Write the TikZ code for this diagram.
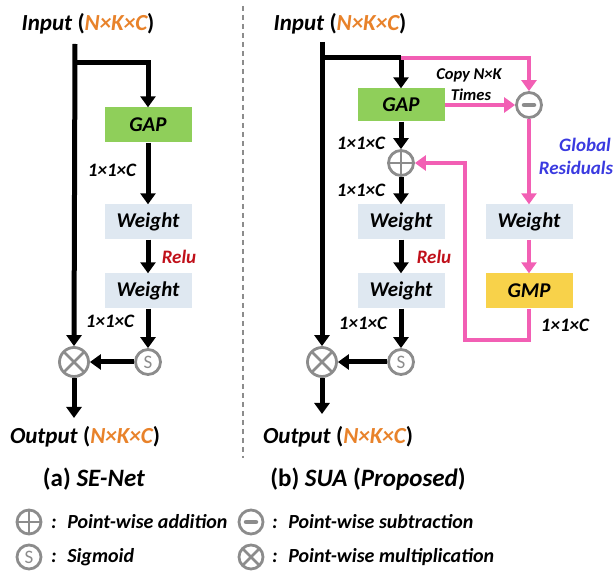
\documentclass[tikz,border=0pt]{standalone}
\usepackage{fontspec}
\setmainfont{Carlito}
\usetikzlibrary{arrows.meta,calc}
\definecolor{gapgreen}{HTML}{8FCF5A}
\definecolor{wblue}{HTML}{DFE8F1}
\definecolor{gmpy}{HTML}{F8D24A}
\definecolor{dimor}{HTML}{E8822A}
\definecolor{pk}{HTML}{F25FB4}
\definecolor{opgray}{HTML}{8C8C8C}
\definecolor{relured}{HTML}{C0101A}
\definecolor{resblue}{HTML}{3A3AE0}
\tikzset{
  lbl/.style={font=\fontsize{23}{25}\selectfont\bfseries\itshape, inner sep=0pt},
  dim/.style={font=\fontsize{19}{21}\selectfont\bfseries\itshape, inner sep=0pt},
  boxbase/.style={minimum width=87pt, minimum height=35pt, inner sep=0pt, font=\fontsize{21}{23}\selectfont\bfseries\itshape},
  gapbox/.style={boxbase, fill=gapgreen},
  wbox/.style={boxbase, fill=wblue},
  gmpbox/.style={boxbase, fill=gmpy},
  blk/.style={line width=5pt, -{Triangle[length=11pt,width=15pt]}},
  blkline/.style={line width=5pt},
  pkarrow/.style={draw=pk, line width=4.2pt, -{Triangle[length=11pt,width=15pt]}},
  opbase/.style={circle, draw=opgray, line width=2.8pt, minimum size=25pt, inner sep=0pt},
  opplus/.style={opbase, path picture={\draw[opgray,line width=2.8pt] (path picture bounding box.north) -- (path picture bounding box.south) (path picture bounding box.west) -- (path picture bounding box.east);}},
  optimes/.style={opbase, path picture={\draw[opgray,line width=2.8pt] (path picture bounding box.north east) -- (path picture bounding box.south west) (path picture bounding box.north west) -- (path picture bounding box.south east);}},
  opminus/.style={opbase, path picture={\draw[opgray,line width=4.5pt,line cap=round] ([xshift=-5pt]path picture bounding box.center) -- ([xshift=5pt]path picture bounding box.center);}},
  opsig/.style={opbase, text=opgray, font=\fontsize{19}{19}\selectfont},
  captext/.style={font=\fontsize{25}{27}\selectfont\bfseries, inner sep=0pt},
  leg/.style={font=\fontsize{20}{22}\selectfont\bfseries\itshape, inner sep=0pt, anchor=west},
}
\newcommand{\nkc}{\textup{(}\textcolor{dimor}{N×K×C}\textup{)}}
\begin{document}
\begin{tikzpicture}[x=1pt,y=-1pt]
\useasboundingbox (0,0) rectangle (614,580);
% separator
\draw[opgray, line width=2pt, dash pattern=on 5pt off 4pt] (243,6) -- (243,458);

% ---------- left: SE-Net ----------
\node[lbl] (inL) at (88,24) {Input \nkc};
\coordinate (topL) at (75,44);
\coordinate (brL) at (75,63);
\node[gapbox] (gapL) at (148,125) {GAP};
\node[wbox] (w1L) at (148,222) {Weight};
\node[wbox] (w2L) at (148,291) {Weight};
\node[opsig] (sL) at (148,362) {S};
\node[optimes, minimum size=29pt] (mulL) at (74,362) {};
\coordinate (endL) at (74,418);
\node[lbl] (outL) at (85,437) {Output \nkc};

\draw[blk] (topL) -- (mulL.north);
\draw[blk] (brL) -| (gapL.north);
\draw[blk] (gapL.south) -- (w1L.north);
\draw[blk] (w1L.south) -- (w2L.north);
\draw[blk] (w2L.south) -- (sL.north);
\draw[blk] (sL.west) -- (mulL.east);
\draw[blk] (mulL.south) -- (endL);
\node[dim] (dL1) at (112,170) {1×1×C};
\node[dim, text=relured] (reluL) at (179,257) {Relu};
\node[dim] (dL2) at (110,321) {1×1×C};

% ---------- right: SUA ----------
\node[lbl] (inR) at (340,24) {Input \nkc};
\coordinate (topR) at (322,42);
\coordinate (brR) at (322,58);
\coordinate (spR) at (401,58);
\node[gapbox, minimum height=33pt] (gapR) at (401,105) {GAP};
\node[opminus] (minus) at (529,105) {};
\node[opplus] (plus) at (401,163) {};
\node[wbox] (w1R) at (401,222) {Weight};
\node[wbox] (w2R) at (401,291) {Weight};
\node[opsig] (sR) at (401,362) {S};
\node[optimes, minimum size=29pt] (mulR) at (322,362) {};
\coordinate (endR) at (322,414);
\node[lbl] (outR) at (338,437) {Output \nkc};
\node[wbox] (wG) at (529,222) {Weight};
\node[gmpbox] (gmp) at (529,291) {GMP};

\draw[blk] (topR) -- (mulR.north);
\draw[blkline] (brR) -- (spR);
\draw[blk] (spR) -- (gapR.north);
\draw[pkarrow] (spR) -| (minus.north);
\draw[pkarrow] (gapR.east) -- (minus.west);
\draw[pkarrow] (minus.south) -- (wG.north);
\draw[pkarrow] (wG.south) -- (gmp.north);
\draw[pkarrow] (gmp.south) -- ++(0,31) -| (465,163) -- (plus.east);
\draw[blk] (gapR.south) -- (plus.north);
\draw[blk] (plus.south) -- (w1R.north);
\draw[blk] (w1R.south) -- (w2R.north);
\draw[blk] (w2R.south) -- (sR.north);
\draw[blk] (sR.west) -- (mulR.east);
\draw[blk] (mulR.south) -- (endR);

\node[dim, font=\fontsize{16.5}{18}\selectfont\bfseries\itshape] (copy) at (469,75) {Copy N×K};
\node[dim, font=\fontsize{16.5}{18}\selectfont\bfseries\itshape] (times) at (471,95) {Times};
\node[dim, text=resblue] (glob) at (585,145) {Global};
\node[dim, text=resblue] (resid) at (576,168) {Residuals};
\node[dim] (dR1) at (361,143) {1×1×C};
\node[dim] (dR2) at (361,190) {1×1×C};
\node[dim, text=relured] (reluR) at (434,257) {Relu};
\node[dim] (dR3) at (363,323) {1×1×C};
\node[dim] (dR4) at (565,325) {1×1×C};

% ---------- captions ----------
\node[captext] (capA) at (94,479) {(a) \textit{SE-Net}};
\node[captext] (capB) at (368,479) {(b) \textit{SUA} (\textit{Proposed})};

% ---------- legend ----------
\node[opplus, minimum size=24pt] (lgplus) at (29,522) {};
\node[leg] (tplus) at (51,522) {:~ Point-wise addition};
\node[opminus, minimum size=24pt] (lgminus) at (251,522) {};
\node[leg] (tminus) at (272,522) {:~ Point-wise subtraction};
\node[opsig, minimum size=24pt] (lgsig) at (29,557) {S};
\node[leg] (tsig) at (51,557) {:~ Sigmoid};
\node[optimes, minimum size=24pt] (lgtimes) at (251,557) {};
\node[leg] (ttimes) at (272,557) {:~ Point-wise multiplication};
\end{tikzpicture}
\end{document}
